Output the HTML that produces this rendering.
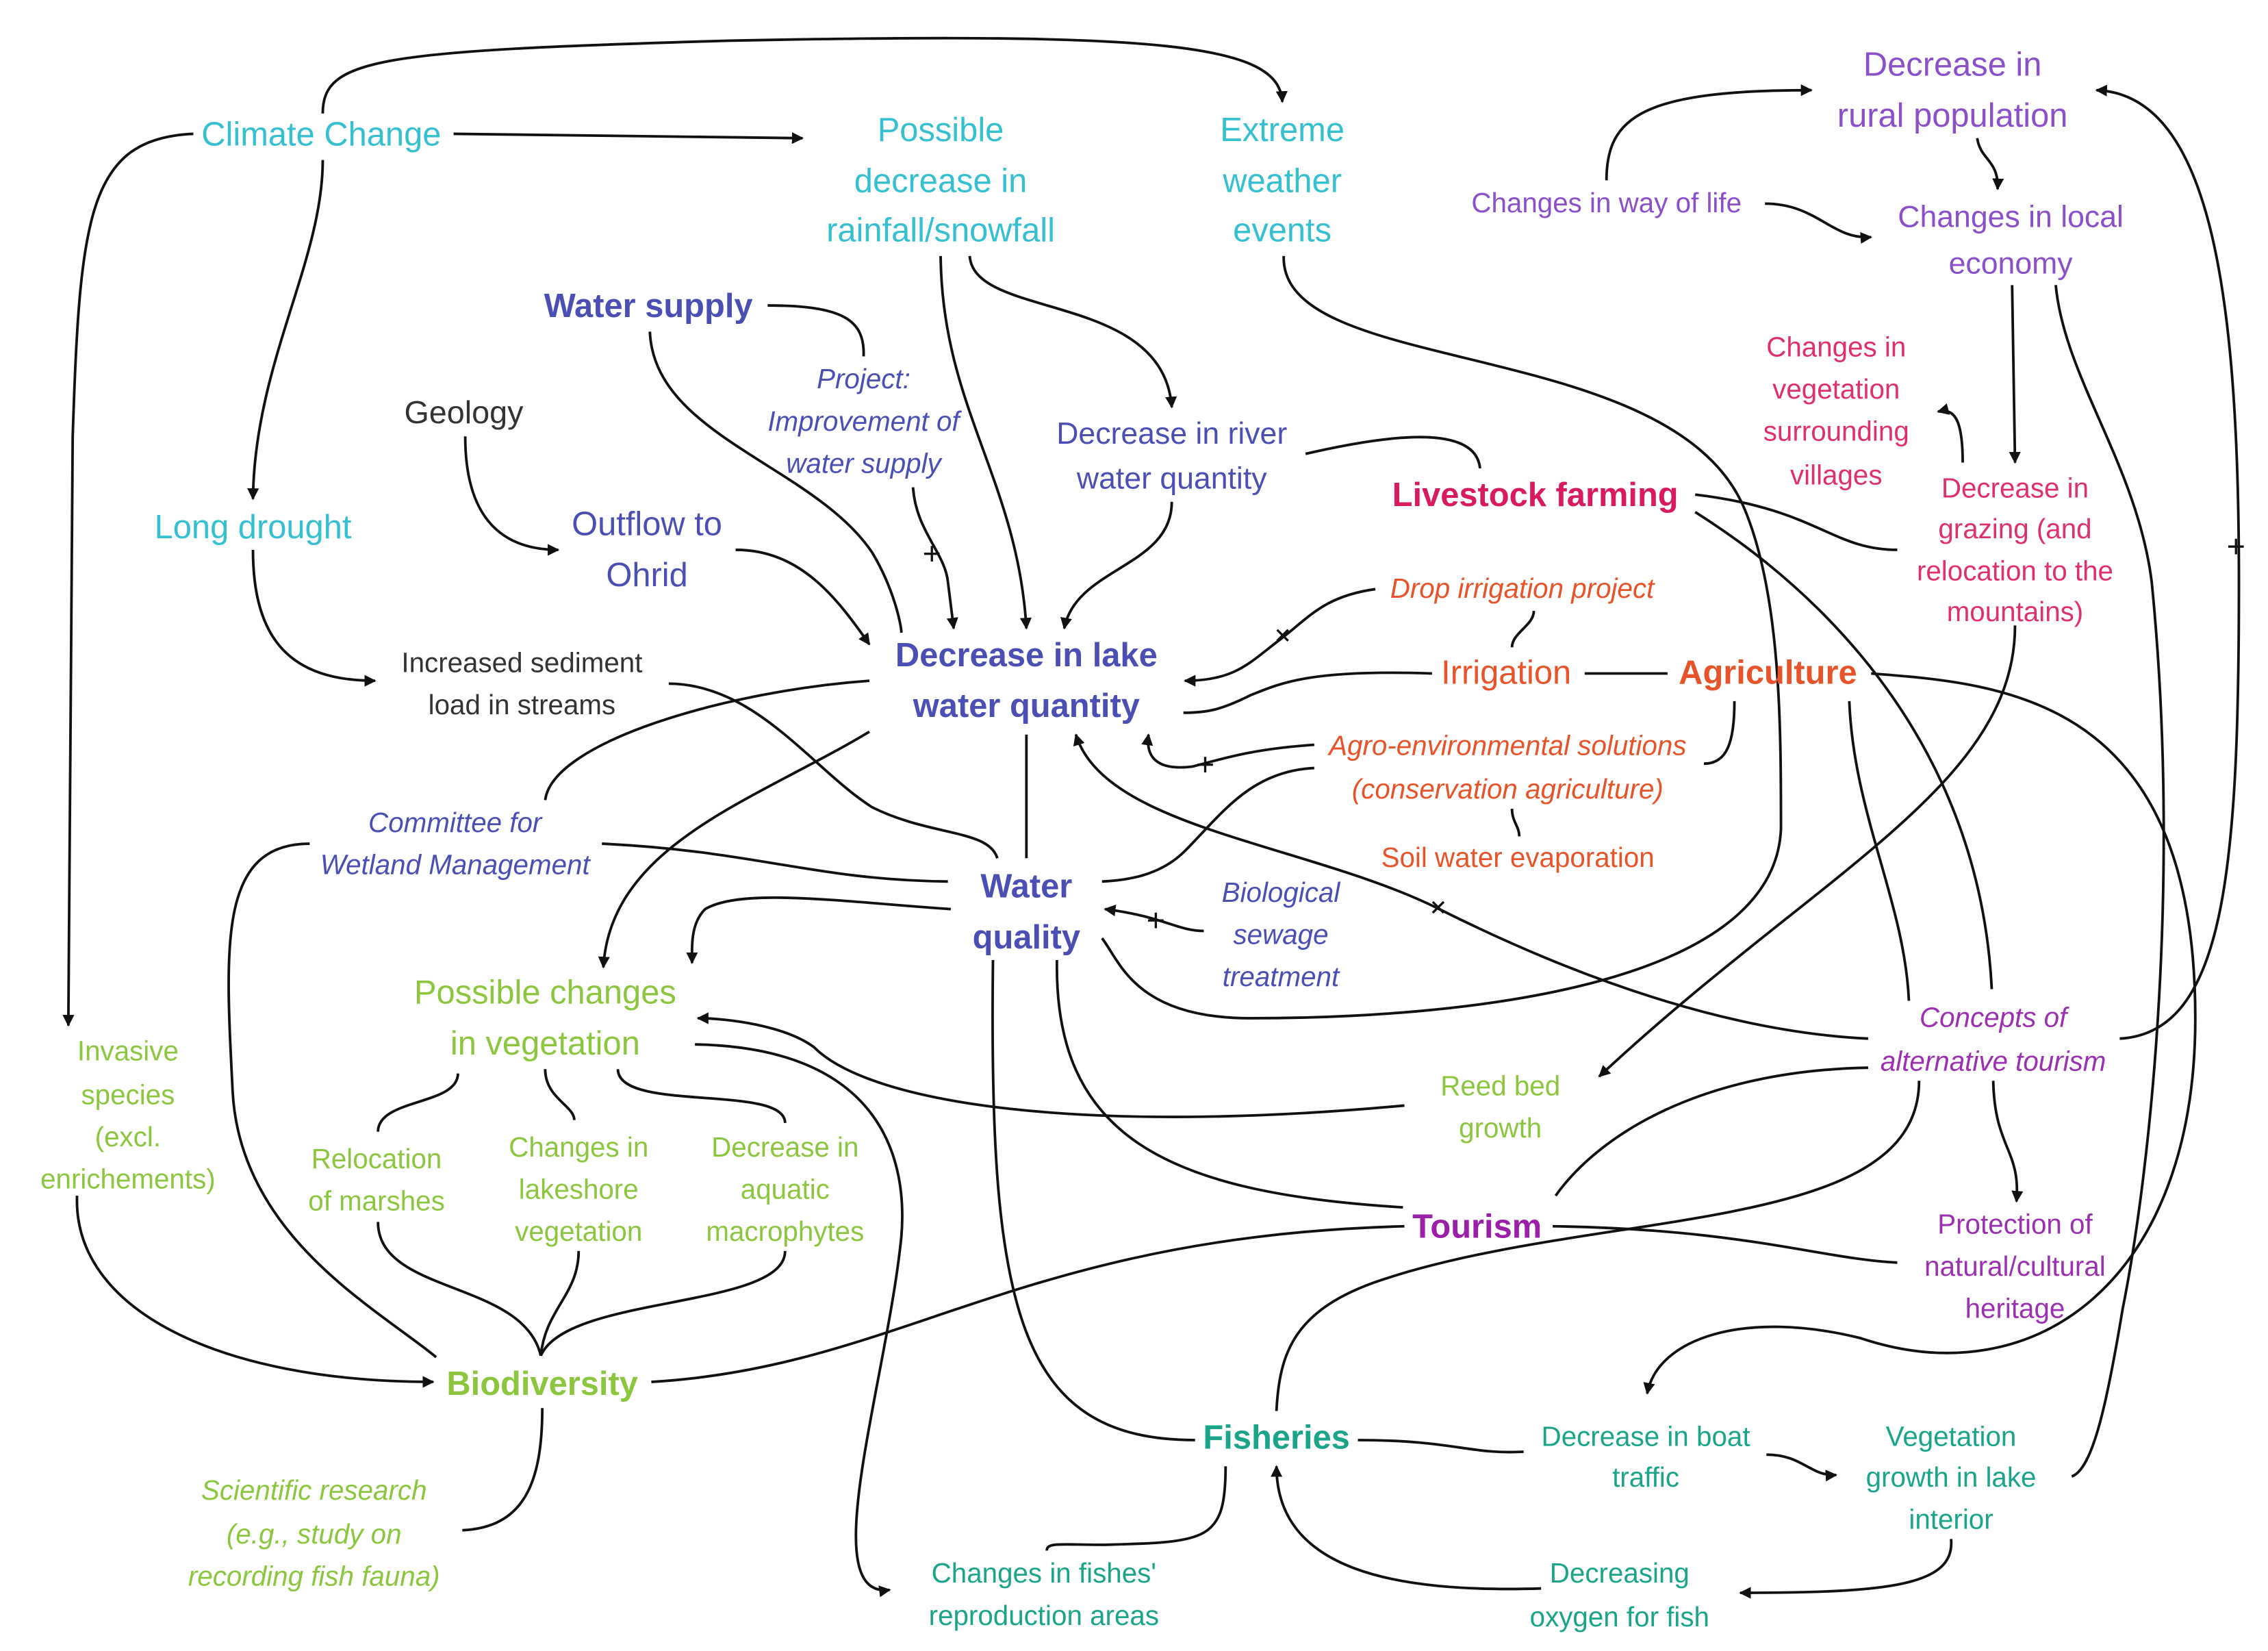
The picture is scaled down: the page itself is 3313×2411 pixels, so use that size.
<!DOCTYPE html>
<html><head><meta charset="utf-8"><style>
html,body{margin:0;padding:0;background:#fff;}
svg{display:block;}
text{font-family:"Liberation Sans",sans-serif;text-anchor:middle;}
.c{fill:#35c0d2;font-size:23px}
.b{fill:#4b4fb3;font-size:21px}
.bb{fill:#4b4fb3;font-size:23px;font-weight:bold}
.bi{fill:#4b4fb3;font-size:19px;font-style:italic}
.p{fill:#8a4fc9;font-size:21px}
.pk{fill:#e0306a;font-size:19px}
.o{fill:#e8542a;font-size:19px;font-style:italic}
.g{fill:#8cc63f;font-size:19px}
.t{fill:#1aa58a;font-size:19px}
.k{fill:#333;font-size:19px}
path{fill:none;stroke:#111;stroke-width:1.8}
.pl{fill:#111;font-size:22px}
</style></head><body>
<svg width="3313" height="2411" viewBox="0 0 1560 1135" preserveAspectRatio="none" xmlns="http://www.w3.org/2000/svg">
<defs><marker id="a" viewBox="0 0 10 10" refX="9" refY="5" markerWidth="4.5" markerHeight="4.5" orient="auto"><path d="M0,0 L10,5 L0,10 z" style="fill:#111;stroke:none"/></marker></defs>
<g>
<path d="M222,78 C222,40 260,35 500,28 C800,22 880,30 882,70" marker-end="url(#a)"/>
<path d="M312,92 L552,95" marker-end="url(#a)"/>
<path d="M133,92 C60,95 55,150 50,300 L47,705" marker-end="url(#a)"/>
<path d="M222,110 C222,180 175,250 174,343" marker-end="url(#a)"/>
<path d="M174,378 C174,440 200,468 258,468" marker-end="url(#a)"/>
<path d="M460,470 C520,470 560,530 600,555 C640,575 680,570 686,590"/>
<path d="M320,300 C320,350 340,378 384,378" marker-end="url(#a)"/>
<path d="M506,378 C550,378 575,410 598,443" marker-end="url(#a)"/>
<path d="M447,228 C450,300 560,320 600,380 C615,405 620,430 620,435"/>
<path d="M528,210 C580,210 595,220 594,245"/>
<path d="M628,335 C630,365 650,380 652,400 L656,432" marker-end="url(#a)"/>
<path d="M647,176 C648,280 700,330 706,432" marker-end="url(#a)"/>
<path d="M667,176 C670,220 800,200 806,280" marker-end="url(#a)"/>
<path d="M806,345 C806,390 740,390 732,432" marker-end="url(#a)"/>
<path d="M883,176 C880,260 1150,230 1200,350 C1225,410 1225,500 1225,570 C1220,680 1000,700 860,700 C780,700 770,660 758,645"/>
<path d="M898,312 C950,300 1015,290 1018,322"/>
<path d="M1166,340 C1250,350 1260,378 1305,378"/>
<path d="M1166,352 C1210,380 1360,480 1370,680"/>
<path d="M1350,318 C1350,290 1345,280 1333,283" marker-end="url(#a)"/>
<path d="M1384,196 L1386,318" marker-end="url(#a)"/>
<path d="M1414,196 C1420,260 1470,320 1480,400 C1500,600 1480,800 1460,900 C1450,960 1440,1010 1425,1015"/>
<path d="M1105,124 C1105,80 1130,62 1246,62" marker-end="url(#a)"/>
<path d="M1360,95 C1362,110 1375,110 1374,130" marker-end="url(#a)"/>
<path d="M1214,140 C1250,140 1260,165 1287,163" marker-end="url(#a)"/>
<path d="M1458,714 C1530,710 1540,600 1540,400 C1540,200 1520,65 1442,62" marker-end="url(#a)"/>
<path d="M946,405 C910,410 900,425 880,440 C860,455 850,468 815,468" marker-end="url(#a)"/>
<path d="M1040,445 C1040,435 1055,430 1055,420"/>
<path d="M985,463 C900,460 880,470 860,478 C840,488 830,490 814,490"/>
<path d="M1090,463 L1147,463"/>
<path d="M1193,482 C1193,510 1188,525 1172,525"/>
<path d="M904,512 C860,515 840,522 820,527 C795,530 788,520 790,505" marker-end="url(#a)"/>
<path d="M1040,556 C1040,565 1045,568 1045,575"/>
<path d="M904,528 C860,530 840,560 815,585 C800,600 780,605 758,606"/>
<path d="M1287,463 C1380,470 1510,480 1510,700 C1510,880 1400,960 1280,920 C1200,900 1140,920 1133,958" marker-end="url(#a)"/>
<path d="M1272,482 C1275,560 1310,620 1313,688"/>
<path d="M1386,430 C1386,540 1250,600 1100,740" marker-end="url(#a)"/>
<path d="M1371,743 C1372,790 1390,790 1387,826" marker-end="url(#a)"/>
<path d="M1285,714 C1200,710 1100,680 990,625 C900,580 760,570 740,505" marker-end="url(#a)"/>
<path d="M1320,743 C1320,850 1100,830 950,880 C890,900 880,930 878,970"/>
<path d="M1285,734 C1170,736 1100,780 1070,822"/>
<path d="M1068,843 C1200,845 1250,865 1305,868"/>
<path d="M966,843 C700,850 620,940 448,950"/>
<path d="M727,660 C725,780 800,820 965,830"/>
<path d="M683,660 C680,900 700,990 822,990"/>
<path d="M966,760 C750,780 600,760 560,720 C540,705 500,700 480,700" marker-end="url(#a)"/>
<path d="M654,625 C580,620 510,610 485,625 C475,635 476,650 476,662" marker-end="url(#a)"/>
<path d="M414,580 C520,585 560,605 652,606"/>
<path d="M375,550 C380,510 500,475 598,468"/>
<path d="M598,503 C520,550 420,580 415,665" marker-end="url(#a)"/>
<path d="M706,505 L706,590"/>
<path d="M828,640 C810,640 800,630 760,625" marker-end="url(#a)"/>
<path d="M213,580 C150,580 155,650 160,750 C165,850 260,900 300,933"/>
<path d="M53,822 C50,900 150,950 298,950" marker-end="url(#a)"/>
<path d="M315,738 C315,760 260,755 260,778"/>
<path d="M375,735 C375,755 395,760 395,770"/>
<path d="M425,735 C425,765 540,745 540,772"/>
<path d="M260,840 C260,890 360,880 372,932"/>
<path d="M398,860 C398,890 375,900 372,932"/>
<path d="M540,860 C540,900 390,890 372,932"/>
<path d="M373,968 C373,1020 360,1050 318,1052"/>
<path d="M478,718 C600,720 625,790 620,850 C610,950 560,1100 612,1093" marker-end="url(#a)"/>
<path d="M843,1008 C843,1060 830,1060 760,1062 C730,1062 720,1060 720,1066"/>
<path d="M934,990 C1000,990 1010,1000 1048,998"/>
<path d="M1215,1000 C1240,1000 1245,1015 1263,1014" marker-end="url(#a)"/>
<path d="M1342,1058 C1345,1090 1300,1095 1197,1095" marker-end="url(#a)"/>
<path d="M1060,1092 C960,1095 878,1080 878,1008" marker-end="url(#a)"/>
</g>
<g>
<text class="pl" x="641" y="388">+</text>
<text class="pl" x="1538" y="383">+</text>
<text class="pl" x="882" y="444" transform="rotate(45 882 437)">+</text>
<text class="pl" x="829" y="533">+</text>
<text class="pl" x="989" y="631" transform="rotate(45 989 624)">+</text>
<text class="pl" x="795" y="640">+</text>
</g>
<g>
<text class="c" x="221" y="100">Climate Change</text>
<text class="c" x="647" y="97">Possible</text><text class="c" x="647" y="132">decrease in</text><text class="c" x="647" y="166">rainfall/snowfall</text>
<text class="c" x="882" y="97">Extreme</text><text class="c" x="882" y="132">weather</text><text class="c" x="882" y="166">events</text>
<text class="p" x="1343" y="52" style="font-size:23px">Decrease in</text><text class="p" x="1343" y="87" style="font-size:23px">rural population</text>
<text class="p" x="1105" y="146" style="font-size:19px">Changes in way of life</text>
<text class="p" x="1383" y="156">Changes in local</text><text class="p" x="1383" y="188">economy</text>
<text class="bb" x="446" y="218">Water supply</text>
<text class="bi" x="594" y="267">Project:</text><text class="bi" x="594" y="296">Improvement of</text><text class="bi" x="594" y="325">water supply</text>
<text class="k" x="319" y="291" style="font-size:22px">Geology</text>
<text class="b" x="806" y="305">Decrease in river</text><text class="b" x="806" y="336">water quantity</text>
<text x="1056" y="348" style="fill:#d81b60;font-size:23px;font-weight:bold">Livestock farming</text>
<text class="pk" x="1263" y="245">Changes in</text><text class="pk" x="1263" y="274">vegetation</text><text class="pk" x="1263" y="303">surrounding</text><text class="pk" x="1263" y="333">villages</text>
<text class="pk" x="1386" y="342">Decrease in</text><text class="pk" x="1386" y="370">grazing (and</text><text class="pk" x="1386" y="399">relocation to the</text><text class="pk" x="1386" y="427">mountains)</text>
<text class="c" x="174" y="370">Long drought</text>
<text class="b" x="445" y="368" style="font-size:23px">Outflow to</text><text class="b" x="445" y="403" style="font-size:23px">Ohrid</text>
<text class="o" x="1047" y="411">Drop irrigation project</text>
<text class="bb" x="706" y="458">Decrease in lake</text><text class="bb" x="706" y="493">water quantity</text>
<text class="k" x="359" y="462">Increased sediment</text><text class="k" x="359" y="491">load in streams</text>
<text x="1036" y="470" style="fill:#e8542a;font-size:23px">Irrigation</text>
<text x="1216" y="470" style="fill:#e8542a;font-size:23px;font-weight:bold">Agriculture</text>
<text class="o" x="1037" y="519">Agro-environmental solutions</text><text class="o" x="1037" y="549">(conservation agriculture)</text>
<text class="bi" x="313" y="572">Committee for</text><text class="bi" x="313" y="601">Wetland Management</text>
<text class="o" x="1044" y="596" style="font-style:normal">Soil water evaporation</text>
<text class="bb" x="706" y="617">Water</text><text class="bb" x="706" y="652">quality</text>
<text class="bi" x="881" y="620">Biological</text><text class="bi" x="881" y="649">sewage</text><text class="bi" x="881" y="678">treatment</text>
<text class="g" x="375" y="690" style="font-size:23px">Possible changes</text><text class="g" x="375" y="725" style="font-size:23px">in vegetation</text>
<text class="g" x="88" y="729">Invasive</text><text class="g" x="88" y="759">species</text><text class="g" x="88" y="788">(excl.</text><text class="g" x="88" y="817">enrichements)</text>
<text x="1371" y="706" style="fill:#9b30b0;font-size:19px;font-style:italic">Concepts of</text><text x="1371" y="736" style="fill:#9b30b0;font-size:19px;font-style:italic">alternative tourism</text>
<text class="g" x="1032" y="753">Reed bed</text><text class="g" x="1032" y="782">growth</text>
<text class="g" x="259" y="803">Relocation</text><text class="g" x="259" y="832">of marshes</text>
<text class="g" x="398" y="795">Changes in</text><text class="g" x="398" y="824">lakeshore</text><text class="g" x="398" y="853">vegetation</text>
<text class="g" x="540" y="795">Decrease in</text><text class="g" x="540" y="824">aquatic</text><text class="g" x="540" y="853">macrophytes</text>
<text x="1386" y="848" style="fill:#9b30b0;font-size:19px">Protection of</text><text x="1386" y="877" style="fill:#9b30b0;font-size:19px">natural/cultural</text><text x="1386" y="906" style="fill:#9b30b0;font-size:19px">heritage</text>
<text x="1016" y="851" style="fill:#9b1fa8;font-size:23px;font-weight:bold">Tourism</text>
<text x="373" y="959" style="fill:#8cc63f;font-size:23px;font-weight:bold">Biodiversity</text>
<text x="878" y="996" style="fill:#1aa58a;font-size:23px;font-weight:bold">Fisheries</text>
<text class="t" x="1132" y="994">Decrease in boat</text><text class="t" x="1132" y="1022">traffic</text>
<text class="t" x="1342" y="994">Vegetation</text><text class="t" x="1342" y="1022">growth in lake</text><text class="t" x="1342" y="1051">interior</text>
<text class="g" x="216" y="1031" style="font-style:italic">Scientific research</text><text class="g" x="216" y="1061" style="font-style:italic">(e.g., study on</text><text class="g" x="216" y="1090" style="font-style:italic">recording fish fauna)</text>
<text class="t" x="718" y="1088">Changes in fishes'</text><text class="t" x="718" y="1117">reproduction areas</text>
<text class="t" x="1114" y="1088">Decreasing</text><text class="t" x="1114" y="1118">oxygen for fish</text>
</g>
</svg>
</body></html>
